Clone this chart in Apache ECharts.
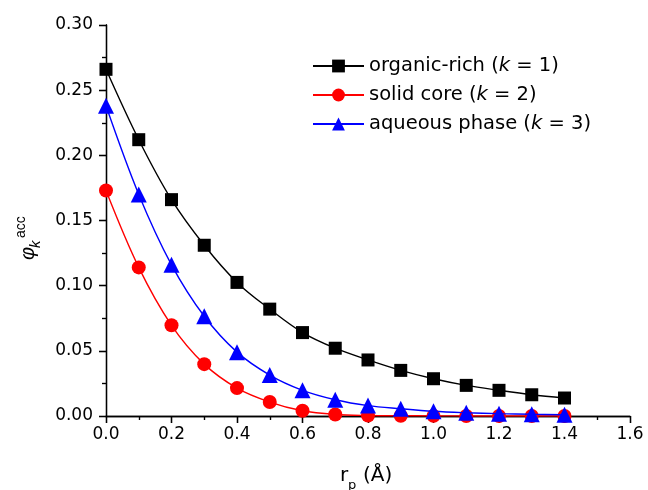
<!DOCTYPE html>
<html>
<head>
<meta charset="utf-8">
<script src="https://cdn.jsdelivr.net/npm/echarts@6/dist/echarts.min.js"></script>
<style>
html,body{margin:0;padding:0;background:#fff;}
#chart{width:648px;height:490px;}
</style>
</head>
<body>
<div id="chart"></div>
<script>
// ---- data ----
var rp = [0.0, 0.1, 0.2, 0.3, 0.4, 0.5, 0.6, 0.7, 0.8, 0.9, 1.0, 1.1, 1.2, 1.3, 1.4];
var organicRich = [0.266, 0.212, 0.166, 0.131, 0.1025, 0.082, 0.064, 0.052, 0.043, 0.035, 0.0286, 0.0235, 0.0197, 0.0163, 0.0138];
var solidCore = [0.173, 0.114, 0.0696, 0.0398, 0.0214, 0.0107, 0.0040, 0.0012, 0.0004, 0.0002, 0.0001, 0.00005, 0.00003, 0.00002, 0.00001];
var aqueousPhase = [0.238, 0.170, 0.116, 0.0765, 0.049, 0.0314, 0.0197, 0.0125, 0.008, 0.0056, 0.0036, 0.0025, 0.0018, 0.0013, 0.001];
var seriesNames = ['organic-rich (k = 1)', 'solid core (k = 2)', 'aqueous phase (k = 3)'];
var xTicks = ['0.0','0.2','0.4','0.6','0.8','1.0','1.2','1.4','1.6'];
var yTicks = ['0.00','0.05','0.10','0.15','0.20','0.25','0.30'];

function pairs(xs, ys){ return xs.map(function(x,i){ return [x, ys[i]]; }); }

var FONT = 'DejaVu Sans';
var chart = echarts.init(document.getElementById('chart'), null, {renderer:'canvas'});

var axisLine = {show:true, lineStyle:{color:'#000', width:1.3}};
function xAxisDef(pos, showLabel, inside){
  return {
    type:'value', position:pos, min:0, max:1.6, interval:0.2,
    axisLine:axisLine,
    axisTick:{show:true, inside:inside, length:7, lineStyle:{color:'#000', width:1.3}},
    minorTick:{show:true, splitNumber:2, length:4, lineStyle:{color:'#000', width:1.2}},
    splitLine:{show:false}, minorSplitLine:{show:false},
    axisLabel:{show:showLabel, margin:10, color:'#000', fontFamily:FONT, fontSize:17,
      formatter:function(v){ var s=v.toFixed(1); return xTicks.indexOf(s)>=0 ? s : ''; }}
  };
}
function yAxisDef(pos, showLabel, inside){
  return {
    type:'value', position:pos, min:0, max:0.30, interval:0.05,
    axisLine:axisLine,
    axisTick:{show:true, inside:inside, length:7, lineStyle:{color:'#000', width:1.3}},
    minorTick:{show:true, splitNumber:2, length:4, lineStyle:{color:'#000', width:1.2}},
    splitLine:{show:false}, minorSplitLine:{show:false},
    axisLabel:{show:showLabel, margin:13, color:'#000', fontFamily:FONT, fontSize:17,
      formatter:function(v){ var s=v.toFixed(2); return yTicks.indexOf(s)>=0 ? s : ''; }}
  };
}

function lineSeries(name, data, color, symbol, size, z){
  return {
    name:name, type:'line', xAxisIndex:0, yAxisIndex:0,
    data:pairs(rp, data), smooth:0.35,
    symbol:symbol, symbolSize:size, showAllSymbol:true,
    lineStyle:{color:color, width:1.4},
    itemStyle:{color:color, borderWidth:0},
    emphasis:{disabled:true}, z:z
  };
}

var option = {
  animation:false,
  backgroundColor:'#fff',
  grid:{left:106, right:18, top:25, bottom:74, containLabel:false},
  xAxis:[xAxisDef('bottom', true, false), xAxisDef('top', false, true)],
  yAxis:[yAxisDef('left', true, false), yAxisDef('right', false, true)],
  legend:{
    orient:'vertical', left:312, top:56, padding:0,
    itemWidth:51, itemHeight:16, itemGap:9,
    data:seriesNames,
    textStyle:{color:'#000', fontFamily:FONT, fontSize:19.5,
      rich:{i:{fontStyle:'italic', fontFamily:FONT, fontSize:19.5, color:'#000'}}},
    formatter:function(n){ return n.replace('(k =', '({i|k} ='); }
  },
  series:[
    lineSeries(seriesNames[0], organicRich, '#000000', 'rect', 13, 3),
    lineSeries(seriesNames[1], solidCore, '#ff0000', 'circle', 14, 4),
    lineSeries(seriesNames[2], aqueousPhase, '#0000ff', 'triangle', 16, 5)
  ],
  graphic:[
    // x-axis title: r_p (Å)
    {type:'text', x:340, y:476, style:{text:'r', fontFamily:FONT, fontSize:20, fill:'#000', textVerticalAlign:'middle', textAlign:'left'}},
    {type:'text', x:348, y:486, style:{text:'p', fontFamily:FONT, fontSize:13, fill:'#000', textVerticalAlign:'middle', textAlign:'left'}},
    {type:'text', x:363, y:476, style:{text:'(Å)', fontFamily:FONT, fontSize:20, fill:'#000', textVerticalAlign:'middle', textAlign:'left'}},
    // y-axis title: φ_k^acc (rotated)
    {type:'group', x:30, y:251, rotation:Math.PI/2, children:[
      {type:'text', x:-9, y:-1.5, style:{text:'φ', fontFamily:'Liberation Sans', fontStyle:'italic', fontSize:20, fill:'#000', textVerticalAlign:'middle', textAlign:'left'}},
      {type:'text', x:3, y:5.5, style:{text:'k', fontFamily:'Liberation Sans', fontStyle:'italic', fontSize:15, fill:'#000', textVerticalAlign:'middle', textAlign:'left'}},
      {type:'text', x:13, y:-9, style:{text:'acc', fontFamily:'Liberation Sans', fontSize:14, fill:'#000', textVerticalAlign:'middle', textAlign:'left'}}
    ]}
  ]
};
chart.setOption(option);
</script>
</body>
</html>
